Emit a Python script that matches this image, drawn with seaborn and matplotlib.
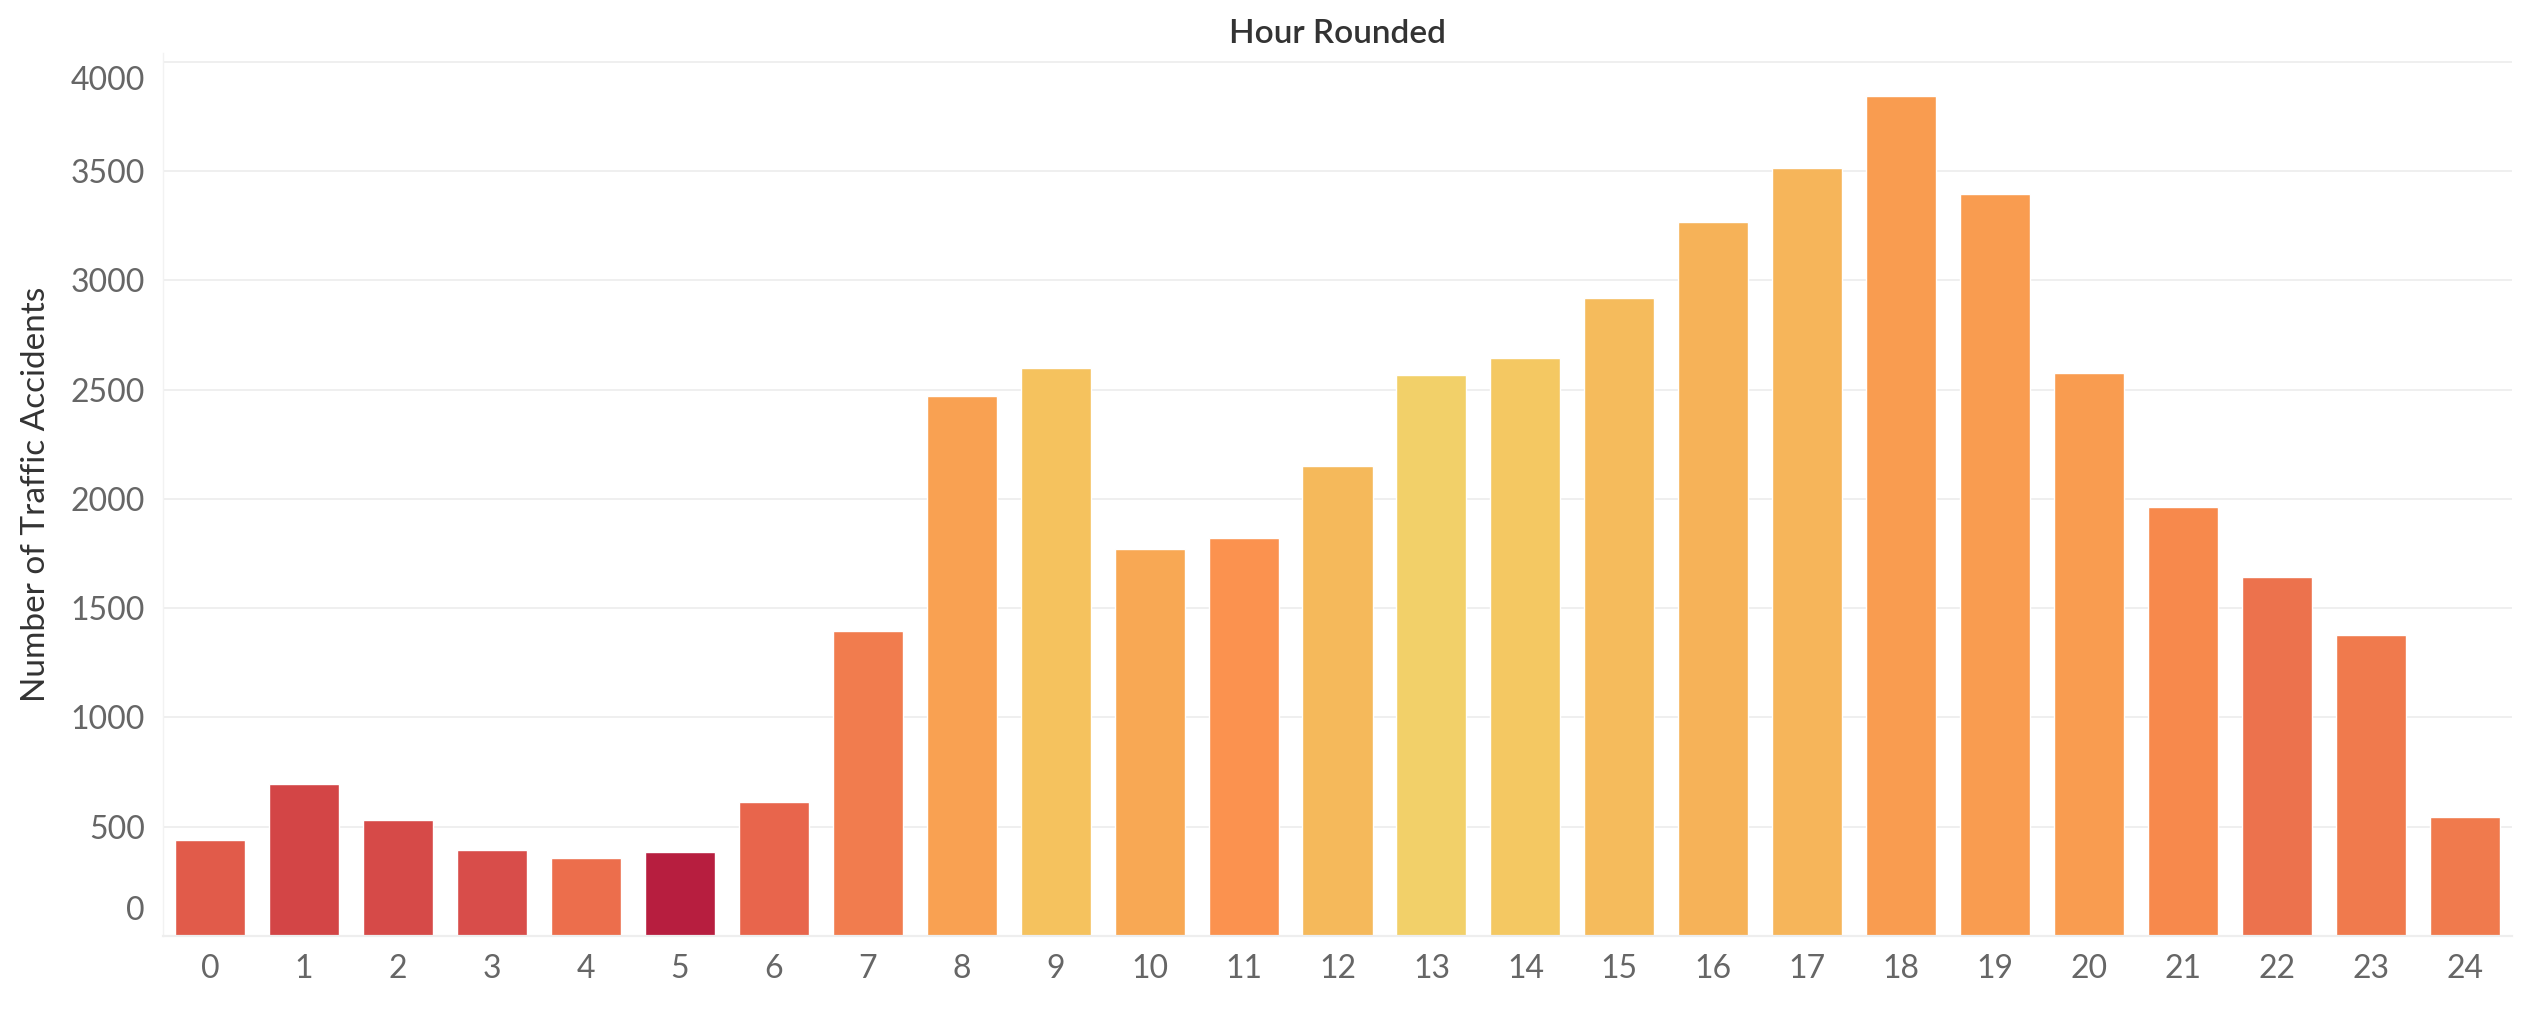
import matplotlib
matplotlib.use("Agg")
import matplotlib.pyplot as plt
import matplotlib.transforms as mtransforms
import seaborn as sns
import pandas as pd

hours = [str(h) for h in range(25)]
accidents = [439, 696, 531, 394, 357, 384, 612, 1398, 2469, 2599, 1773, 1820,
             2151, 2569, 2643, 2918, 3266, 3515, 3844, 3396, 2578, 1964, 1642,
             1378, 544]
bar_colors = ["#E15B4A", "#D34546", "#D64A48", "#D84D4A", "#EC6E4C", "#B71E3F",
              "#E8654C", "#F17C4E", "#F9A152", "#F5C25E", "#F8A854", "#FB924F",
              "#F5B95B", "#F2D069", "#F4C862", "#F5BB5C", "#F6B258", "#F6B55A",
              "#F99C50", "#F99C50", "#F99C50", "#F7894C", "#EC724D", "#F07A4D",
              "#F07A4D"]
y_ticks = [0, 500, 1000, 1500, 2000, 2500, 3000, 3500, 4000]

sns.set_theme(style="white")
plt.rcParams['font.family'] = ['Lato', 'DejaVu Sans']

df = pd.DataFrame({"Hour Rounded": hours, "Number of Traffic Accidents": accidents})

fig = plt.figure(figsize=(25.32, 10.10), dpi=100)
ax = fig.add_axes([163 / 2532, 1 - 936 / 1010, (2512 - 163) / 2532, (936 - 53) / 1010])

sns.barplot(data=df, x="Hour Rounded", y="Number of Traffic Accidents",
            hue="Hour Rounded", palette=bar_colors, legend=False,
            width=0.745, saturation=1, ax=ax, order=hours, hue_order=hours)

grid_c = "#EEEEEE"
ax.set_xlim(-0.5, len(hours) - 0.5)
ax.set_ylim(0, 4041)
ax.set_yticks(y_ticks)
ax.set_yticklabels([str(v) for v in y_ticks])
ax.yaxis.grid(True, color=grid_c, linewidth=1.3)
ax.xaxis.grid(False)
ax.set_axisbelow(True)

for s in ["top", "right"]:
    ax.spines[s].set_visible(False)
ax.spines["left"].set_color("#F2F2F2")
ax.spines["left"].set_linewidth(1.0)
ax.spines["bottom"].set_color(grid_c)
ax.spines["bottom"].set_linewidth(1.6)

ax.tick_params(axis="y", which="major", length=8, width=1.3, color=grid_c,
               labelsize=23, labelcolor="#666666", pad=5)
ax.tick_params(axis="x", which="major", length=0, labelsize=23,
               labelcolor="#666666", pad=13)
ax.set_xticks([i - 0.5 for i in range(len(hours) + 1)], minor=True)
ax.tick_params(axis="x", which="minor", length=6, width=1.2, color=grid_c)

labels = ax.get_yticklabels()
labels[0].set_va("bottom")
labels[0].set_transform(labels[0].get_transform() +
                        mtransforms.ScaledTranslation(0, 10 / 100, fig.dpi_scale_trans))
labels[-1].set_va("top")
labels[-1].set_transform(labels[-1].get_transform() +
                         mtransforms.ScaledTranslation(0, -4 / 100, fig.dpi_scale_trans))

ax.set_xlabel("")
ax.set_ylabel("Number of Traffic Accidents", fontsize=24, color="#333333", labelpad=14)
ax.set_title("Hour Rounded", fontsize=24, color="#333333", fontweight="semibold", pad=7)

fig.savefig("out.png", dpi=100, facecolor="white")
